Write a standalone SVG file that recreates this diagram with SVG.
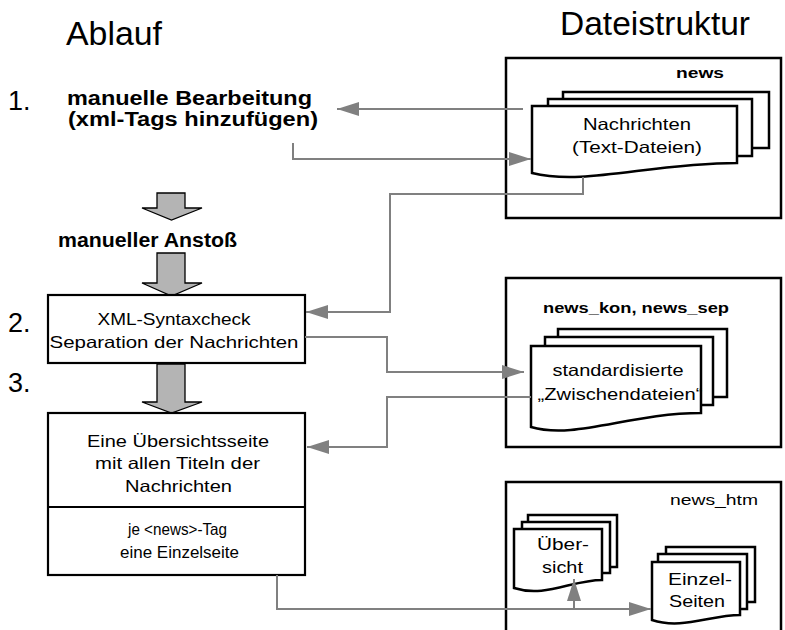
<svg xmlns="http://www.w3.org/2000/svg" width="785" height="630" viewBox="0 0 785 630">
<style>
  text { font-family: "Liberation Sans", Arial, sans-serif; fill: #000; }
  .title { font-size: 33px; }
  .num { font-size: 27px; }
  .bold { font-size: 20px; font-weight: bold; }
  .lbl { font-size: 15px; font-weight: bold; }
  .lbln { font-size: 15px; }
  .t { font-size: 16.5px; text-anchor: middle; }
  .frame { fill: #fff; stroke: #000; stroke-width: 2.5; }
  .doc { fill: #fff; stroke: #000; stroke-width: 2.5; stroke-linejoin: miter; }
  .box { fill: #fff; stroke: #000; stroke-width: 2.2; }
  .big { fill: #b4b4b4; stroke: #000; stroke-width: 1.3; }
  .conn { fill: none; stroke: #808080; stroke-width: 2; }
</style>
<defs>
  <marker id="ah" viewBox="0 0 22 14" refX="22" refY="7" markerWidth="22" markerHeight="14" markerUnits="userSpaceOnUse" orient="auto">
    <path d="M0,0 L22,7 L0,14 Z" fill="#808080"/>
  </marker>
</defs>
<rect width="785" height="630" fill="#fff"/>

<g id="titles">
  <text class="title" x="66" y="45" textLength="96" lengthAdjust="spacingAndGlyphs">Ablauf</text>
  <text class="title" x="560" y="35" textLength="190" lengthAdjust="spacingAndGlyphs">Dateistruktur</text>
  <text class="num" x="8" y="110">1.</text>
  <text class="num" x="8" y="332">2.</text>
  <text class="num" x="8" y="392">3.</text>
</g>

<g id="step1">
  <text class="bold" x="67" y="105" textLength="245" lengthAdjust="spacingAndGlyphs">manuelle Bearbeitung</text>
  <text class="bold" x="68" y="126" textLength="250" lengthAdjust="spacingAndGlyphs">(xml-Tags hinzufügen)</text>
</g>

<g id="bigarrow1">
  <polygon class="big" points="157,193 185,193 185,208 202,208 171.5,220 142,208 157,208"/>
</g>

<g id="trigger">
  <text class="bold" x="58" y="247" textLength="179" lengthAdjust="spacingAndGlyphs">manueller Anstoß</text>
</g>

<g id="bigarrow2">
  <polygon class="big" points="157,253 185,253 185,283 202,283 171.5,296 142,283 157,283"/>
</g>

<g id="step2">
  <rect class="box" x="48" y="295" width="257" height="68"/>
  <text class="t" x="174" y="325" textLength="153" lengthAdjust="spacingAndGlyphs">XML-Syntaxcheck</text>
  <text class="t" x="174" y="348" textLength="249" lengthAdjust="spacingAndGlyphs">Separation der Nachrichten</text>
</g>

<g id="bigarrow3">
  <polygon class="big" points="157,364 185,364 185,402 202,402 171.5,413 142,402 157,402"/>
</g>

<g id="step3">
  <rect class="box" x="48" y="413" width="257" height="162"/>
  <line x1="48" y1="507" x2="305" y2="507" stroke="#000" stroke-width="2.2"/>
  <text class="t" x="178" y="447" textLength="182" lengthAdjust="spacingAndGlyphs">Eine Übersichtsseite</text>
  <text class="t" x="177.5" y="469" textLength="165" lengthAdjust="spacingAndGlyphs">mit allen Titeln der</text>
  <text class="t" x="178.5" y="492" textLength="107" lengthAdjust="spacingAndGlyphs">Nachrichten</text>
  <text class="t" x="177.5" y="535" textLength="99" lengthAdjust="spacingAndGlyphs">je &lt;news&gt;-Tag</text>
  <text class="t" x="179.5" y="558" textLength="119" lengthAdjust="spacingAndGlyphs">eine Einzelseite</text>
</g>

<g id="folder-news">
  <rect class="frame" x="506" y="58" width="275" height="160"/>
  <text class="lbl" x="676" y="78" textLength="48" lengthAdjust="spacingAndGlyphs">news</text>
  <rect class="doc" x="563" y="92" width="206" height="56"/>
  <rect class="doc" x="548" y="99" width="204" height="57"/>
  <path class="doc" d="M532,106 H737 V163 C650,163 585,186 532,173 Z"/>
  <text class="t" x="637" y="130" textLength="108" lengthAdjust="spacingAndGlyphs">Nachrichten</text>
  <text class="t" x="637" y="153" textLength="130" lengthAdjust="spacingAndGlyphs">(Text-Dateien)</text>
</g>

<g id="folder-news-kon">
  <rect class="frame" x="506" y="278" width="275" height="169"/>
  <text class="lbl" x="543" y="313" textLength="186" lengthAdjust="spacingAndGlyphs">news_kon, news_sep</text>
  <rect class="doc" x="558" y="329" width="169" height="68"/>
  <rect class="doc" x="545" y="337" width="168" height="68"/>
  <path class="doc" d="M531,346 H701 V413 C630,413 575,440 531,427 Z"/>
  <text class="t" x="618" y="376" textLength="131" lengthAdjust="spacingAndGlyphs">standardisierte</text>
  <text class="t" x="620" y="400" textLength="165" lengthAdjust="spacingAndGlyphs">„Zwischendateien“</text>
</g>

<g id="folder-news-htm">
  <rect class="frame" x="506" y="482" width="275" height="160"/>
  <text class="lbln" x="670" y="505" textLength="88" lengthAdjust="spacingAndGlyphs">news_htm</text>
  <rect class="doc" x="528" y="515" width="89" height="52"/>
  <rect class="doc" x="522" y="522" width="88" height="51"/>
  <path class="doc" d="M514,529 H602 V580 C572,580 545,598 514,588 Z"/>
  <text class="t" x="563" y="550" textLength="52" lengthAdjust="spacingAndGlyphs">Über-</text>
  <text class="t" x="562.5" y="573" textLength="41" lengthAdjust="spacingAndGlyphs">sicht</text>
  <rect class="doc" x="666" y="547" width="89" height="55"/>
  <rect class="doc" x="658" y="554" width="89" height="55"/>
  <path class="doc" d="M652,562 H740 V615 C710,615 682,630 652,620 Z"/>
  <text class="t" x="700" y="585" textLength="64" lengthAdjust="spacingAndGlyphs">Einzel-</text>
  <text class="t" x="697" y="607" textLength="56" lengthAdjust="spacingAndGlyphs">Seiten</text>
</g>

<g id="connectors">
  <path class="conn" d="M523,109 H337" marker-end="url(#ah)"/>
  <path class="conn" d="M293,143 V159 H531" marker-end="url(#ah)"/>
  <path class="conn" d="M583,177 V194 H390 V312 H306" marker-end="url(#ah)"/>
  <path class="conn" d="M305,337 H387 V372 H524" marker-end="url(#ah)"/>
  <path class="conn" d="M531,397 H387 V447 H307" marker-end="url(#ah)"/>
  <path class="conn" d="M277,575 V609 H651" marker-end="url(#ah)"/>
  <path class="conn" d="M574,609 V579" marker-end="url(#ah)"/>
</g>
</svg>
